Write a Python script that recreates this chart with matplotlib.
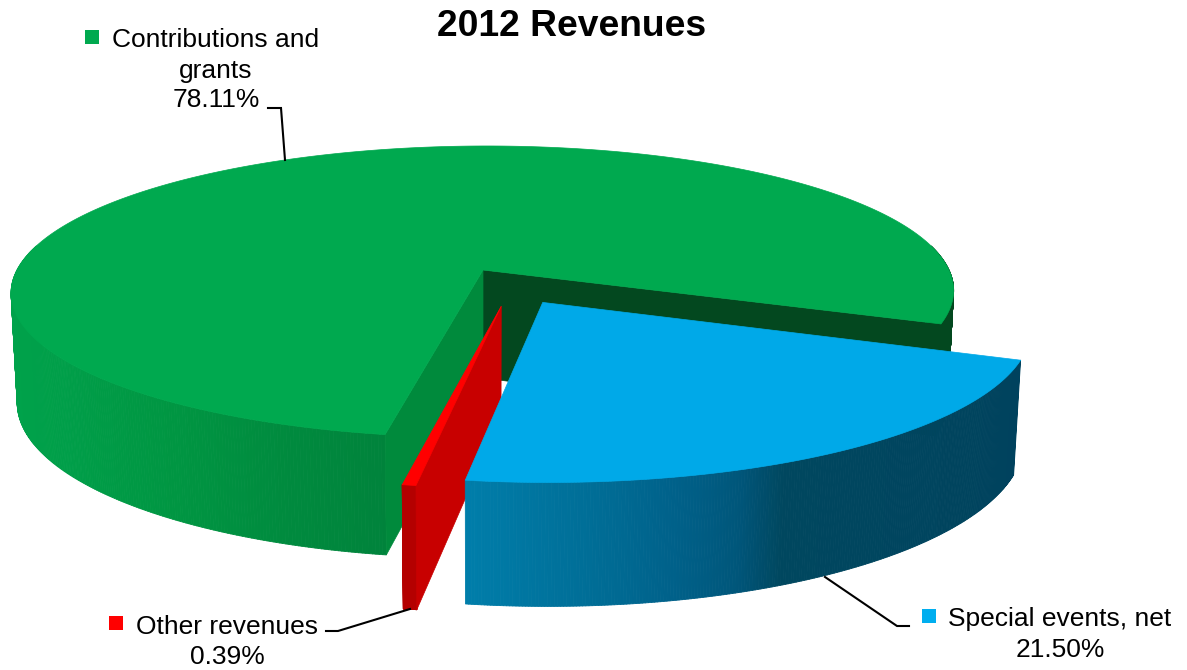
import numpy as np
import matplotlib
matplotlib.use("Agg")
import matplotlib.pyplot as plt
from matplotlib.collections import PolyCollection
from matplotlib.colors import to_rgb
from matplotlib.patches import Polygon, Rectangle

plt.rcParams['font.family'] = ['Liberation Sans', 'DejaVu Sans']

# Revenue shares in percent
categories = ['Contributions and grants', 'Special events, net', 'Other revenues']
shares = [78.11, 21.50, 0.39]
title = '2012 Revenues'

# Pie projection, in pixels
CX, CY = 483, 270
RX, RY = 466, 142.5
PERSP = 0.149
SHEAR = -0.03
DEPTH = 108
BOTTOM_SX, BOTTOM_SY = 0.987, 1.075
START_ANGLE = -21.0


def project(u, v, bottom=False):
    """Ground plane (u, v) to screen pixels, with some perspective"""
    u = np.asarray(u, dtype=float)
    v = np.asarray(v, dtype=float)
    scale = 1 / (1 + PERSP * v)
    y = -RY * v * scale
    x = RX * u * scale + SHEAR * y
    if bottom:
        return CX + x * BOTTOM_SX, CY + DEPTH + y * BOTTOM_SY
    return CX + x, CY + y


def arc(a1, a2, off, n=240):
    ang = np.linspace(a1, a2, n)
    return ang, off[0] + np.cos(np.radians(ang)), off[1] + np.sin(np.radians(ang))


def shade(stops, ang):
    pos = [s[0] for s in stops]
    rgb = np.array([to_rgb(s[1]) for s in stops])
    return np.column_stack([np.interp(ang, pos, rgb[:, i]) for i in range(3)])


def draw_wall(ax, a1, a2, off, stops):
    ang, u, v = arc(a1, a2, off)
    xt, yt = project(u, v)
    xb, yb = project(u, v, bottom=True)
    quads = [[(xt[i], yt[i]), (xt[i + 1], yt[i + 1]), (xb[i + 1], yb[i + 1]), (xb[i], yb[i])]
             for i in range(len(ang) - 1)]
    cols = shade(stops, (ang[:-1] + ang[1:]) / 2)
    ax.add_collection(PolyCollection(quads, facecolors=cols, edgecolors=cols, linewidths=0.6))


def draw_cut(ax, angle, off, color):
    u = [off[0], off[0] + np.cos(np.radians(angle))]
    v = [off[1], off[1] + np.sin(np.radians(angle))]
    xt, yt = project(u, v)
    xb, yb = project(u, v, bottom=True)
    pts = [(xt[0], yt[0]), (xt[1], yt[1]), (xb[1], yb[1]), (xb[0], yb[0])]
    ax.add_patch(Polygon(pts, closed=True, fc=color, ec=color, lw=0.5))


def draw_top(ax, a1, a2, off, color):
    _, u, v = arc(a1, a2, off, n=400)
    x, y = project(np.r_[off[0], u], np.r_[off[1], v])
    ax.add_patch(Polygon(np.column_stack([x, y]), closed=True, fc=color, ec=color, lw=0.5))


fig = plt.figure(figsize=(11.87, 6.70), dpi=100)
ax = fig.add_axes([0, 0, 1, 1])
ax.set_xlim(0, 1187)
ax.set_ylim(670, 0)
ax.axis('off')

# Slice angles run clockwise from the right hand cut
sweep = np.array(shares) / sum(shares) * 360
blue_a1 = START_ANGLE
blue_a2 = blue_a1 - sweep[1]
red_a2 = blue_a2 - sweep[2]
green_a2 = blue_a1
green_a1 = red_a2

green_off = (0.0, 0.0)
blue_off = (0.126, -0.22)
red_off = (0.04, -0.245)

# Green slice, the part of the wall facing away stays hidden under the top
green_stops = [(170, '#00a64d'), (215, '#009f49'), (235, '#009642'), (250, '#008a3e'), (262, '#00823b')]
draw_wall(ax, 170, green_a1 + 360, green_off, green_stops)
draw_wall(ax, green_a2, 10, green_off, [(-30, '#03481f'), (10, '#03481f')])
draw_cut(ax, green_a2, green_off, '#03481f')
draw_cut(ax, green_a1, green_off, '#008a3c')
draw_top(ax, green_a2, green_a1 + 360, green_off, '#00a94f')

# Red slice
draw_wall(ax, red_a2, blue_a2, red_off, [(-110, '#b40000'), (-90, '#b40000')])
draw_cut(ax, blue_a2, red_off, '#c80000')
draw_top(ax, red_a2, blue_a2, red_off, '#ff0000')

# Blue slice
blue_stops = [(-100, '#0080ad'), (-85, '#006d96'), (-77, '#00618a'), (-70, '#00567a'),
              (-65, '#00475f'), (-20, '#00425e')]
draw_wall(ax, blue_a2, blue_a1, blue_off, blue_stops)
draw_top(ax, blue_a2, blue_a1, blue_off, '#00a9e8')

# Leader lines
leaders = [([268, 281, 285], [108, 108, 160]),
           ([326, 338, 410], [631, 631, 609]),
           ([909, 897, 825], [626, 626, 577])]
for lx, ly in leaders:
    ax.plot(lx, ly, color='black', lw=1.5, solid_joinstyle='miter')

# Legend keys
ax.add_patch(Rectangle((85, 30), 14, 14, fc='#00a94f', ec='none'))
ax.add_patch(Rectangle((109, 616), 14, 14, fc='#ff0000', ec='none'))
ax.add_patch(Rectangle((922, 609), 14, 14, fc='#00aeef', ec='none'))

label_fs = 19
ax.text(216, 40, 'Contributions and', ha='center', va='center', fontsize=label_fs)
ax.text(216, 71, 'grants', ha='center', va='center', fontsize=label_fs)
ax.text(216, 100, f'{shares[0]:.2f}%', ha='center', va='center', fontsize=label_fs)
ax.text(227, 627, categories[2], ha='center', va='center', fontsize=label_fs)
ax.text(227, 657, f'{shares[2]:.2f}%', ha='center', va='center', fontsize=label_fs)
ax.text(1060, 619, categories[1], ha='center', va='center', fontsize=label_fs)
ax.text(1060, 650, f'{shares[1]:.2f}%', ha='center', va='center', fontsize=label_fs)

ax.text(572, 26, title, ha='center', va='center', fontsize=26.8, fontweight='bold')

fig.savefig('out.png', dpi=100)
